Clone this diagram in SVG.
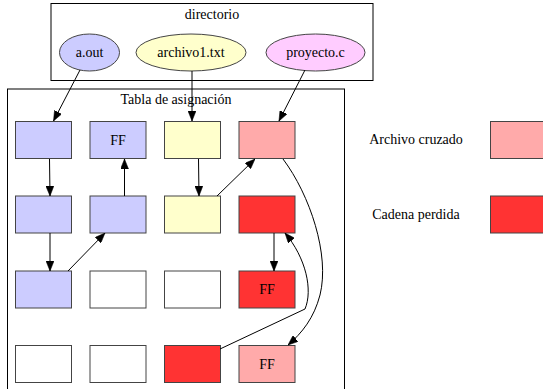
<svg xmlns="http://www.w3.org/2000/svg" width="543" height="389" viewBox="0 0 543 389" font-family="Liberation Serif, Times New Roman, DejaVu Serif, serif">
<style>
text{font-family:'Liberation Serif','Times New Roman','DejaVu Serif',serif;font-size:14px;fill:#000;text-anchor:middle}
.cl{fill:#fff;stroke:#000;stroke-width:1}
.n{stroke:#444;stroke-width:1}
.b{fill:#ccccff}.y{fill:#ffffcc}.p{fill:#ffccff}.lr{fill:#ffaaaa}.r{fill:#ff3333}.w{fill:#fff}
.e{fill:none;stroke:#000;stroke-width:1;marker-end:url(#ah)}
</style>
<defs>
<marker id="ah" markerUnits="userSpaceOnUse" viewBox="0 0 10 8" refX="10" refY="4" markerWidth="10" markerHeight="8" orient="auto">
<path d="M0,0 L10,4 L0,8 Z" fill="#000" stroke="#000" stroke-width="0.5"/>
</marker>
</defs>
<rect width="543" height="389" fill="#fff"/>
<g id="directorio">
<rect class="cl" x="51" y="3.5" width="322" height="77"/>
<text x="212" y="19">directorio</text>
</g>
<g id="tabla">
<rect class="cl" x="7.5" y="89" width="337" height="310"/>
<text x="176" y="104">Tabla de asignación</text>
</g>
<g id="aout"><ellipse class="n b" cx="89.5" cy="52.5" rx="30" ry="18.5"/><text x="89.5" y="57">a.out</text></g>
<g id="archivo1"><ellipse class="n y" cx="191" cy="52.5" rx="55" ry="18.5"/><text x="191" y="57">archivo1.txt</text></g>
<g id="proyecto"><ellipse class="n p" cx="315.5" cy="52.5" rx="49.5" ry="18.5"/><text x="315.5" y="57">proyecto.c</text></g>

<g id="c1r1"><rect class="n b" x="15.5" y="121.5" width="56" height="37"/></g>
<g id="c2r1"><rect class="n b" x="90" y="121.5" width="56" height="37"/><text x="118" y="145">FF</text></g>
<g id="c3r1"><rect class="n y" x="164.5" y="121.5" width="56" height="37"/></g>
<g id="c4r1"><rect class="n lr" x="239" y="121.5" width="56" height="37"/></g>

<g id="c1r2"><rect class="n b" x="15.5" y="196" width="56" height="37"/></g>
<g id="c2r2"><rect class="n b" x="90" y="196" width="56" height="37"/></g>
<g id="c3r2"><rect class="n y" x="164.5" y="196" width="56" height="37"/></g>
<g id="c4r2"><rect class="n r" x="239" y="196" width="56" height="37"/></g>

<g id="c1r3"><rect class="n b" x="15.5" y="271" width="56" height="37"/></g>
<g id="c2r3"><rect class="n w" x="90" y="271" width="56" height="37"/></g>
<g id="c3r3"><rect class="n w" x="164.5" y="271" width="56" height="37"/></g>
<g id="c4r3"><rect class="n r" x="239" y="271" width="56" height="37"/><text x="267" y="294">FF</text></g>

<g id="c1r4"><rect class="n w" x="15.5" y="345.5" width="56" height="37"/></g>
<g id="c2r4"><rect class="n w" x="90" y="345.5" width="56" height="37"/></g>
<g id="c3r4"><rect class="n r" x="164.5" y="345.5" width="56" height="37"/></g>
<g id="c4r4"><rect class="n lr" x="239" y="345.5" width="56" height="37"/><text x="267" y="369">FF</text></g>

<g id="leg1"><text x="416" y="143.5">Archivo cruzado</text><rect class="n lr" x="490.5" y="121.5" width="56" height="37"/></g>
<g id="leg2"><text x="416" y="219">Cadena perdida</text><rect class="n r" x="490.5" y="196" width="56" height="37"/></g>

<g id="edges">
<path class="e" d="M80,70 L53.5,121"/>
<path class="e" d="M192,71 L192,121"/>
<path class="e" d="M305,70 L279,121"/>
<path class="e" d="M49.5,159 L50,196"/>
<path class="e" d="M50,233 L50,271"/>
<path class="e" d="M68,271 L105,233"/>
<path class="e" d="M124.5,196 L124.5,159"/>
<path class="e" d="M198.5,159 L199,196"/>
<path class="e" d="M217,196 L255,159"/>
<path class="e" d="M274,233 L274,271"/>
<path class="e" d="M283,159 C310,195 330,255 320,295 C314,318 302,333 288,345"/>
<path class="e" d="M220,349 L305,309 C313,290 306,258 285,233"/>
</g>
</svg>
